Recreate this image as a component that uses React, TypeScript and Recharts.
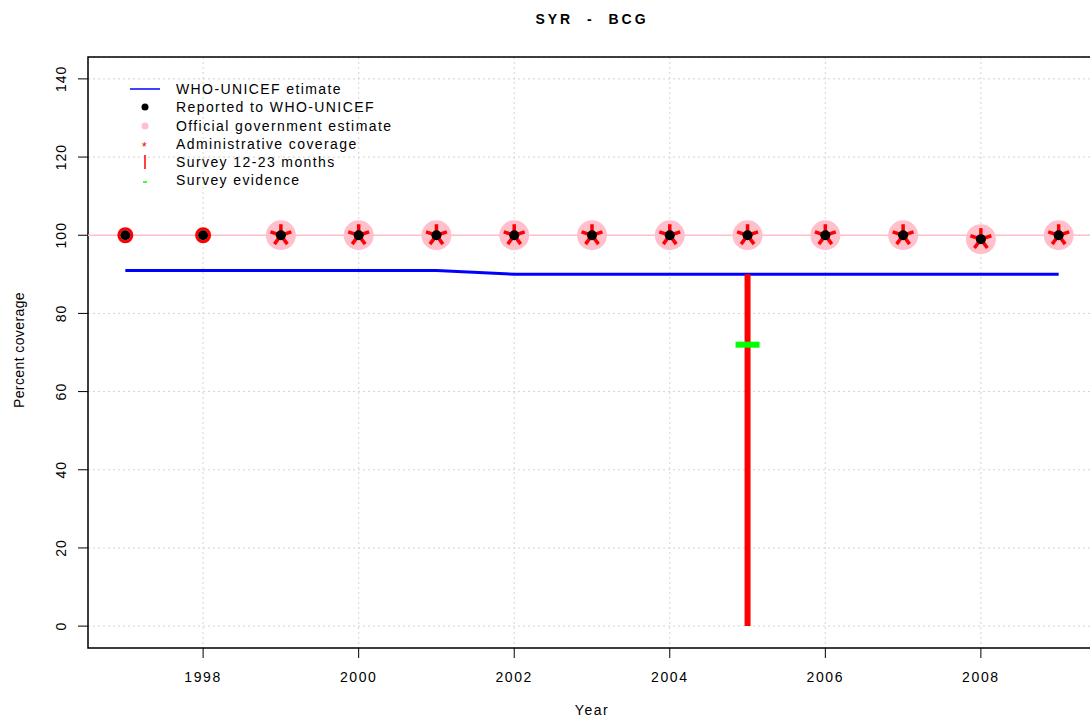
import React from 'react';
import {
  ComposedChart, Line, Scatter, XAxis, YAxis, CartesianGrid, ReferenceLine, ReferenceArea,
} from 'recharts';

const years = [1997, 1998, 1999, 2000, 2001, 2002, 2003, 2004, 2005, 2006, 2007, 2008, 2009];
const whoEstimate = [91, 91, 91, 91, 91, 90, 90, 90, 90, 90, 90, 90, 90];
const reported = [100, 100, 100, 100, 100, 100, 100, 100, 100, 100, 100, 99, 100];
const official = [null, null, 100, 100, 100, 100, 100, 100, 100, 100, 100, 99, 100];
const admin = [100, 100, 100, 100, 100, 100, 100, 100, 100, 100, 100, 99, 100];
const surveyYears = [2005];
const survey1223 = [90];
const surveyEvidence = [72];

const xTicks = [1998, 2000, 2002, 2004, 2006, 2008];
const yTicks = [0, 20, 40, 60, 80, 100, 120, 140];

const data = years.map((year, i) => ({
  year,
  who: whoEstimate[i],
  reported: reported[i],
  official: official[i],
  admin: admin[i],
}));
const evidenceData = surveyYears.map((year, i) => ({ year, evidence: surveyEvidence[i] }));

const sans = '"Liberation Sans", Arial, sans-serif';

const legendItems = [
  { label: 'WHO-UNICEF etimate', kind: 'line', color: '#0000ff' },
  { label: 'Reported to WHO-UNICEF', kind: 'dot', color: '#000000' },
  { label: 'Official government estimate', kind: 'dot', color: '#ffc0cb' },
  { label: 'Administrative coverage', kind: 'star', color: '#ff0000' },
  { label: 'Survey 12-23 months', kind: 'vbar', color: '#ff0000' },
  { label: 'Survey evidence', kind: 'hbar', color: '#00ff00' },
];

function YTick({ x, y, payload }: any) {
  const bx = x - 10;
  return (
    <text
      x={bx}
      y={y}
      transform={`rotate(-90 ${bx} ${y})`}
      textAnchor="middle"
      fontFamily={sans}
      fontSize={14}
      letterSpacing={1}
      fill="#000"
    >
      {payload.value}
    </text>
  );
}

function XTick({ x, y, payload }: any) {
  return (
    <text x={x} y={y + 22} textAnchor="middle" fontFamily={sans} fontSize={14} letterSpacing={1.6} fill="#000">
      {payload.value}
    </text>
  );
}

function Asterisk({ cx, cy, payload }: any) {
  if (cx == null || cy == null) return null;
  if (payload.official == null) {
    return <circle cx={cx} cy={cy} r={6.5} fill="none" stroke="#ff0000" strokeWidth={3} />;
  }
  const arms = [0, 1, 2, 3, 4].map((k) => {
    const a = (-90 + k * 72) * (Math.PI / 180);
    return (
      <line
        key={k}
        x1={cx}
        y1={cy}
        x2={cx + Math.cos(a) * 11}
        y2={cy + Math.sin(a) * 11}
        stroke="#ff0000"
        strokeWidth={3.5}
      />
    );
  });
  return <g>{arms}</g>;
}

function BlackDot({ cx, cy }: any) {
  if (cx == null || cy == null) return null;
  return <circle cx={cx} cy={cy} r={5} fill="#000" />;
}

function PinkDot({ cx, cy }: any) {
  if (cx == null || cy == null) return null;
  return <circle cx={cx} cy={cy} r={15} fill="#ffc0cb" />;
}

function GreenDash({ cx, cy }: any) {
  if (cx == null || cy == null) return null;
  return <rect x={cx - 12} y={cy - 3} width={24} height={6} fill="#00ff00" />;
}

function LegendBox() {
  return (
    <div style={{ fontFamily: sans, fontSize: 14, letterSpacing: 1.4, color: '#000', lineHeight: '18.3px' }}>
      {legendItems.map((item) => (
        <div key={item.label} style={{ display: 'flex', alignItems: 'center', height: 18.3 }}>
          <svg width={46} height={18} style={{ flex: 'none' }}>
            {item.kind === 'line' && <line x1={0} y1={9} x2={30} y2={9} stroke={item.color} strokeWidth={1.5} />}
            {item.kind === 'dot' && <circle cx={15} cy={9} r={3.5} fill={item.color} />}
            {item.kind === 'star' && (
              <text x={15} y={16} textAnchor="middle" fontSize={13} fill={item.color}>*</text>
            )}
            {item.kind === 'vbar' && <line x1={15} y1={2} x2={15} y2={16} stroke={item.color} strokeWidth={1.5} />}
            {item.kind === 'hbar' && <line x1={13} y1={10} x2={17} y2={10} stroke={item.color} strokeWidth={1.5} />}
          </svg>
          <span>{item.label}</span>
        </div>
      ))}
    </div>
  );
}

export default function App() {
  return (
    <div style={{ position: 'absolute', left: 0, top: 0, width: 1090, height: 719, overflow: 'hidden', background: '#fff' }}>
      <div
        style={{
          position: 'absolute',
          top: 11,
          left: 0,
          width: 1184,
          textAlign: 'center',
          fontFamily: sans,
          fontWeight: 'bold',
          fontSize: 14,
          letterSpacing: 3,
        }}
      >
        SYR&nbsp;&nbsp;-&nbsp;&nbsp;BCG
      </div>
      <ComposedChart
        width={1110}
        height={719}
        data={data}
        margin={{ top: 57, right: 14, bottom: 31, left: 28 }}
      >
        <CartesianGrid stroke="#d3d3d3" strokeDasharray="2 3" />
        <XAxis
          dataKey="year"
          type="number"
          domain={[1996.52, 2009.48]}
          ticks={xTicks}
          allowDataOverflow
          axisLine={false}
          tickLine={{ stroke: '#000' }}
          tickSize={10}
          height={40}
          tick={<XTick />}
        />
        <YAxis
          type="number"
          domain={[-5.6, 145.6]}
          ticks={yTicks}
          allowDataOverflow
          axisLine={false}
          tickLine={{ stroke: '#000' }}
          tickSize={10}
          width={60}
          tick={<YTick />}
        />
        <ReferenceLine y={100} stroke="#ffc0cb" strokeWidth={1.5} />
        <Scatter dataKey="official" fill="#ffc0cb" shape={<PinkDot />} isAnimationActive={false} />
        <Line
          dataKey="who"
          type="linear"
          stroke="#0000ff"
          strokeWidth={3}
          dot={false}
          activeDot={false}
          isAnimationActive={false}
        />
        {surveyYears.map((year, i) => (
          <ReferenceLine
            key={year}
            segment={[{ x: year, y: 0 }, { x: year, y: survey1223[i] }]}
            stroke="#ff0000"
            strokeWidth={6}
          />
        ))}
        <Scatter dataKey="admin" fill="#ff0000" shape={<Asterisk />} isAnimationActive={false} />
        <Scatter dataKey="reported" fill="#000" shape={<BlackDot />} isAnimationActive={false} />
        <Scatter data={evidenceData} dataKey="evidence" fill="#00ff00" shape={<GreenDash />} isAnimationActive={false} />
        <ReferenceArea
          x1={1996.52}
          x2={2009.48}
          y1={-5.6}
          y2={145.6}
          fill="none"
          fillOpacity={0}
          stroke="#000"
          strokeWidth={1.5}
          ifOverflow="visible"
        />
      </ComposedChart>
      <div style={{ position: 'absolute', left: 130, top: 80, width: 320 }}>
        <LegendBox />
      </div>
      <div
        style={{
          position: 'absolute',
          left: 592 - 100,
          top: 702,
          width: 200,
          textAlign: 'center',
          fontFamily: sans,
          fontSize: 14,
          letterSpacing: 1.5,
        }}
      >
        Year
      </div>
      <div
        style={{
          position: 'absolute',
          left: 19 - 100,
          top: 350 - 9,
          width: 200,
          height: 18,
          lineHeight: '18px',
          textAlign: 'center',
          fontFamily: sans,
          fontSize: 14,
          letterSpacing: 0.4,
          transform: 'rotate(-90deg)',
        }}
      >
        Percent coverage
      </div>
    </div>
  );
}
